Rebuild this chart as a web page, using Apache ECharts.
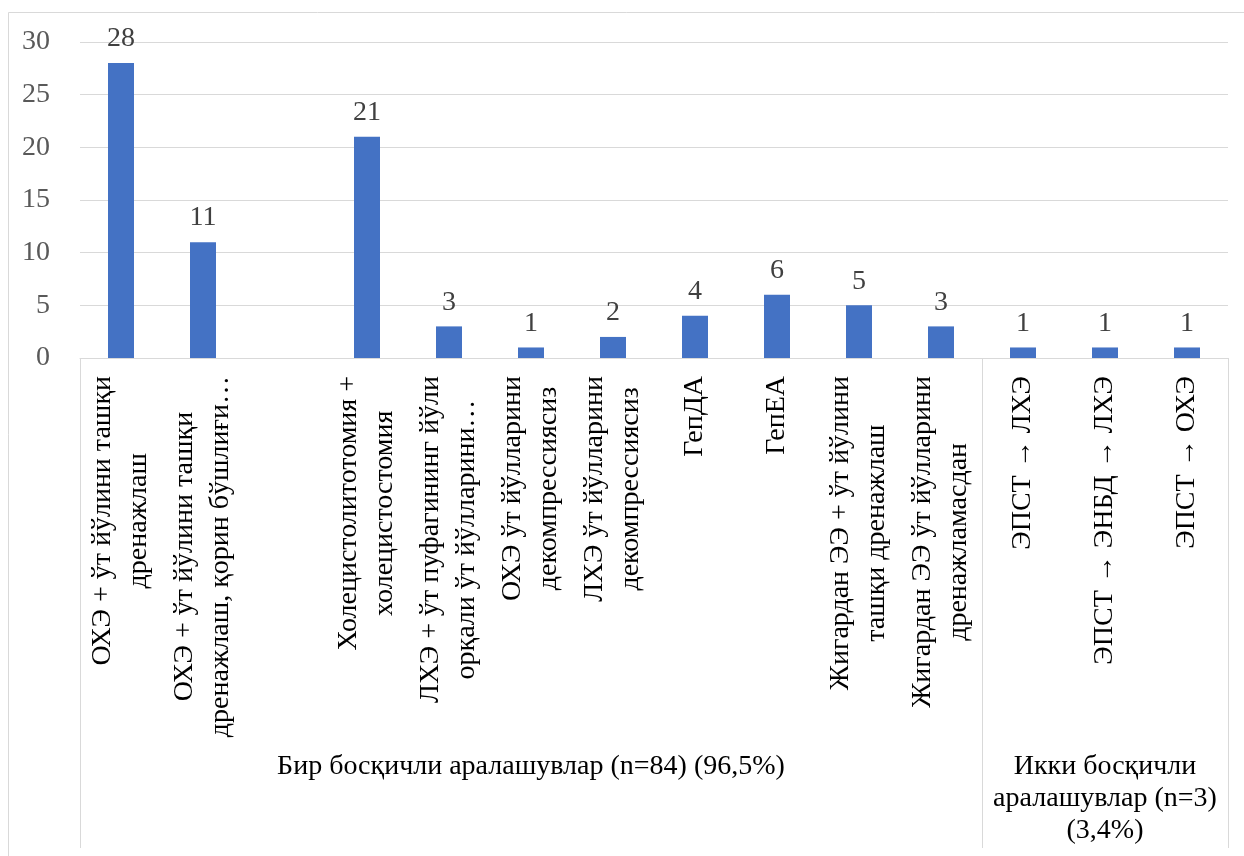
<!DOCTYPE html>
<html>
<head>
<meta charset="utf-8">
<script src="https://cdn.jsdelivr.net/npm/echarts@6/dist/echarts.min.js"></script>
<style>
html, body { margin: 0; padding: 0; background: #fff; }
#chart { width: 1244px; height: 856px; }
</style>
</head>
<body>
<div id="chart"></div>
<script>
// категориялар (ички даража)
var categories = [
	'ОХЭ + ўт йўлини ташқи\nдренажлаш',
	'ОХЭ + ўт йўлини ташқи\nдренажлаш, қорин бўшлиғи…',
	'',
	'Холецистолитотомия +\nхолецистостомия',
	'ЛХЭ + ўт пуфагининг йўли\nорқали ўт йўлларини…',
	'ОХЭ ўт йўлларини\nдекомпрессиясиз',
	'ЛХЭ ўт йўлларини\nдекомпрессиясиз',
	'ГепДА',
	'ГепЕА',
	'Жигардан ЭЭ + ўт йўлини\nташқи дренажлаш',
	'Жигардан ЭЭ ўт йўлларини\nдренажламасдан',
	'ЭПСТ → ЛХЭ',
	'ЭПСТ → ЭНБД → ЛХЭ',
	'ЭПСТ → ОХЭ'
];
var values = [28, 11, null, 21, 3, 1, 2, 4, 6, 5, 3, 1, 1, 1];

// гуруҳлар (ташқи даража)
var groupNames = [
	'Бир босқичли аралашувлар (n=84) (96,5%)',
	'Икки босқичли\nаралашувлар (n=3)\n(3,4%)'
];
var groupStarts = [0, 11];
var groupSizes = [11, 3];

var yMin = 0, yMax = 30, yStep = 5;

var FONT = 'Liberation Serif';
var FS = 28;

// гуруҳ номлари ўрта категорияга қўйилади
var groupAxisData = categories.map(function() { return ''; });
for (var g = 0; g < groupNames.length; g++) {
	groupAxisData[groupStarts[g] + Math.floor(groupSizes[g] / 2)] = groupNames[g];
}

var chart = echarts.init(document.getElementById('chart'));
var option = {
	backgroundColor : '#fff',
	animation : false,
	graphic : [ {
		type : 'rect',
		shape : { x : 8.5, y : 12.5, width : 1300, height : 900 },
		style : { fill : 'none', stroke : '#d9d9d9', lineWidth : 1 }
	} ],
	grid : {
		left : 80,
		right : 16,
		top : 42,
		bottom : 498
	},
	xAxis : [ {
		type : 'category',
		data : categories,
		boundaryGap : true,
		axisLine : { lineStyle : { color : '#d9d9d9', width : 1 } },
		axisTick : {
			show : true,
			length : 490,
			interval : function(i) {
				return groupStarts.indexOf(i) >= 0;
			},
			lineStyle : { color : '#d9d9d9', width : 1 }
		},
		axisLabel : {
			interval : 0,
			rotate : 90,
			margin : 18,
			formatter : function(v) {
				return v.split('\n').map(function(s) {
					return '{c|' + s + '}';
				}).join('\n');
			},
			rich : {
				c : {
					align : 'center',
					fontFamily : FONT,
					fontSize : FS,
					lineHeight : 36,
					color : '#000'
				}
			}
		}
	}, {
		type : 'category',
		data : groupAxisData,
		position : 'bottom',
		offset : 385,
		axisLine : { show : false },
		axisTick : { show : false },
		axisLabel : {
			interval : 0,
			margin : 8,
			fontFamily : FONT,
			fontSize : FS,
			lineHeight : 32,
			color : '#000'
		}
	} ],
	yAxis : {
		type : 'value',
		min : yMin,
		max : yMax,
		interval : yStep,
		axisLine : { show : false },
		axisTick : { show : false },
		splitLine : { lineStyle : { color : '#d9d9d9', width : 1 } },
		axisLabel : {
			margin : 30,
			fontFamily : FONT,
			fontSize : FS,
			color : '#595959'
		}
	},
	series : [ {
		type : 'bar',
		xAxisIndex : 0,
		data : values,
		barWidth : 26,
		itemStyle : { color : '#4472C4' },
		label : {
			show : true,
			position : 'top',
			distance : 10,
			fontFamily : FONT,
			fontSize : FS,
			color : '#404040'
		}
	} ]
};
chart.setOption(option);
</script>
</body>
</html>
